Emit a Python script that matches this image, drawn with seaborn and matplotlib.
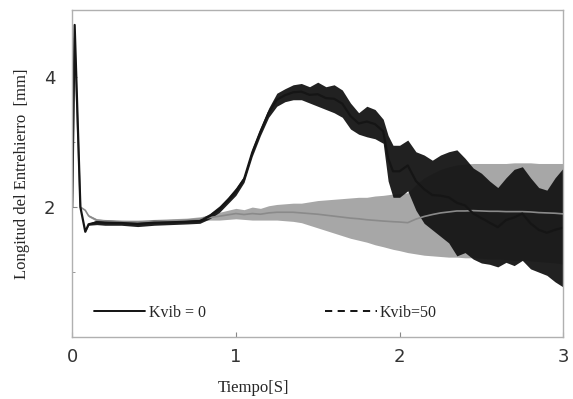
import numpy as np
import pandas as pd
import matplotlib
matplotlib.use("Agg")
import matplotlib.pyplot as plt
from matplotlib.lines import Line2D
import seaborn as sns

# Envelope (lower / upper) of each trace
t_vals = [0.0, 0.015, 0.05, 0.08, 0.1, 0.15, 0.2, 0.3, 0.4, 0.5, 0.6, 0.7, 0.78, 0.84,
          0.9, 0.95, 1.0, 1.05, 1.1, 1.15, 1.2, 1.25, 1.3, 1.35, 1.4, 1.45, 1.5, 1.55,
          1.6, 1.65, 1.7, 1.75, 1.8, 1.85, 1.9, 1.93, 1.96, 2.0, 2.05, 2.1, 2.15, 2.2,
          2.25, 2.3, 2.35, 2.4, 2.45, 2.5, 2.55, 2.6, 2.65, 2.7, 2.75, 2.8, 2.85, 2.9,
          2.95, 3.0]

k0_low = [2.0, 4.8, 2.0, 1.62, 1.72, 1.73, 1.72, 1.72, 1.70, 1.72, 1.73, 1.74, 1.75, 1.82,
          1.92, 2.05, 2.18, 2.38, 2.78, 3.10, 3.38, 3.55, 3.62, 3.65, 3.65, 3.60, 3.55, 3.50,
          3.45, 3.38, 3.20, 3.12, 3.08, 3.05, 2.98, 2.40, 2.15, 2.15, 2.25, 1.95, 1.75, 1.65,
          1.55, 1.45, 1.25, 1.30, 1.20, 1.14, 1.12, 1.08, 1.15, 1.10, 1.18, 1.05, 1.00, 0.95,
          0.85, 0.77]
k0_high = [2.0, 4.8, 2.0, 1.62, 1.75, 1.80, 1.80, 1.79, 1.78, 1.80, 1.80, 1.81, 1.82, 1.90,
           2.02, 2.15, 2.30, 2.48, 2.90, 3.22, 3.52, 3.75, 3.82, 3.88, 3.90, 3.85, 3.92, 3.85,
           3.88, 3.80, 3.60, 3.45, 3.55, 3.50, 3.35, 3.10, 2.95, 2.95, 3.03, 2.85, 2.80, 2.72,
           2.80, 2.85, 2.88, 2.75, 2.60, 2.52, 2.40, 2.30, 2.45, 2.58, 2.62, 2.45, 2.30, 2.26,
           2.45, 2.60]

k50_low = [2.0, 4.6, 2.0, 1.95, 1.85, 1.78, 1.76, 1.75, 1.74, 1.75, 1.76, 1.77, 1.78, 1.80,
           1.80, 1.81, 1.82, 1.81, 1.80, 1.80, 1.80, 1.80, 1.79, 1.78, 1.76, 1.72, 1.68, 1.64,
           1.60, 1.56, 1.52, 1.49, 1.46, 1.42, 1.39, 1.37, 1.35, 1.33, 1.30, 1.28, 1.26, 1.25,
           1.24, 1.23, 1.23, 1.22, 1.22, 1.21, 1.20, 1.20, 1.19, 1.18, 1.18, 1.17, 1.16, 1.15,
           1.14, 1.12]
k50_high = [2.0, 4.6, 2.0, 1.95, 1.88, 1.82, 1.81, 1.80, 1.80, 1.81, 1.82, 1.83, 1.85, 1.88,
            1.92, 1.95, 1.98, 1.96, 2.00, 1.98, 2.02, 2.04, 2.05, 2.06, 2.06, 2.08, 2.10, 2.11,
            2.12, 2.13, 2.14, 2.15, 2.15, 2.17, 2.18, 2.19, 2.20, 2.21, 2.22, 2.35, 2.45, 2.52,
            2.58, 2.62, 2.65, 2.66, 2.67, 2.67, 2.67, 2.67, 2.67, 2.68, 2.68, 2.68, 2.67, 2.67,
            2.67, 2.67]

labels = ["Kvib = 0", "Kvib=50"]
x_ticks = [0, 1, 2, 3]
y_ticks = [2, 4]

# long format: two rows per time (low and high) -> band = min..max
def to_long(lo, hi):
    return pd.DataFrame({"t": t_vals + t_vals, "y": lo + hi})

df_k0 = to_long(k0_low, k0_high)
df_k50 = to_long(k50_low, k50_high)

sns.set_style("ticks")
plt.rcParams["font.family"] = ["Liberation Serif", "DejaVu Serif"]

fig = plt.figure(figsize=(5.73, 3.99), dpi=100)
ax = fig.add_axes([0.126, 0.155, 0.857, 0.82])

sns.lineplot(data=df_k50, x="t", y="y", estimator="mean", errorbar=("pi", 100),
             color="#8a8a8a", linewidth=1.2, err_kws={"alpha": 0.75, "linewidth": 0}, ax=ax)
sns.lineplot(data=df_k0, x="t", y="y", estimator="mean", errorbar=("pi", 100),
             color="#151515", linewidth=1.6, err_kws={"alpha": 0.95, "linewidth": 0}, ax=ax)

ax.set_xlim(0, 3)
ax.set_ylim(0, 5.03)
ax.set_xticks(x_ticks)
ax.set_yticks(y_ticks)
ax.set_yticks([1, 3], minor=True)
ax.tick_params(axis="both", which="both", direction="in", color="#888888", labelsize=13)
ax.tick_params(axis="x", pad=8)
ax.tick_params(axis="y", pad=12)
for lab in ax.get_xticklabels() + ax.get_yticklabels():
    lab.set_family("DejaVu Sans")
    lab.set_color("#333333")
for s in ax.spines.values():
    s.set_visible(True)
    s.set_color("#b0b0b0")
    s.set_linewidth(1.0)

ax.set_xlabel("Tiempo[S]", fontsize=12)
ax.set_ylabel("Longitud del Entrehierro  [mm]", fontsize=12)
ax.xaxis.set_label_coords(0.37, -0.13)
ax.yaxis.set_label_coords(-0.085, 0.5)

handles = [Line2D([], [], color="black", lw=1.3, ls="-"),
           Line2D([], [], color="black", lw=1.3, ls=(0, (4, 3)))]
ax.legend(handles, labels, ncol=2, loc="lower left", bbox_to_anchor=(0.045, 0.05),
          frameon=False, handlelength=3.2, handletextpad=0.2, columnspacing=7.5,
          fontsize=11.5, borderaxespad=0, borderpad=0)

fig.savefig("out.png", dpi=100)
